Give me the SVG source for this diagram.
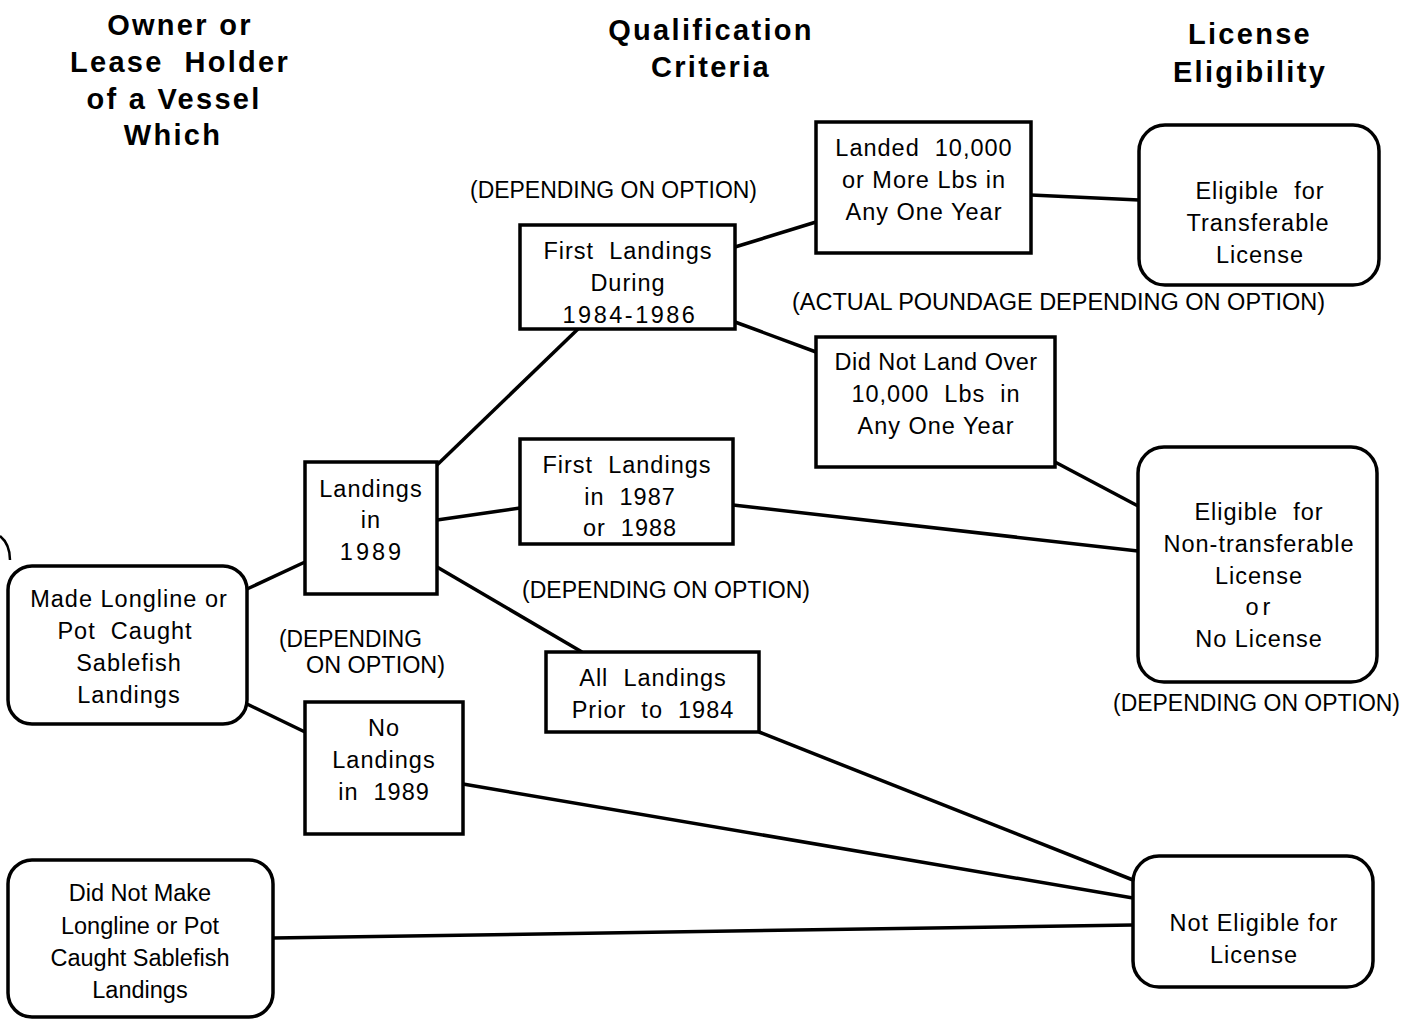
<svg xmlns="http://www.w3.org/2000/svg" width="1417" height="1019" viewBox="0 0 1417 1019">
<style>
.box{fill:#fff;stroke:#000;stroke-width:3.5}
.t{font-family:"Liberation Sans",Arial,sans-serif;font-size:23.5px;letter-spacing:1px;text-anchor:middle;fill:#000;white-space:pre}
.h{font-family:"Liberation Sans",Arial,sans-serif;font-size:29px;font-weight:bold;letter-spacing:2.3px;text-anchor:middle;fill:#000;white-space:pre}
.n{font-family:"Liberation Sans",Arial,sans-serif;font-size:23.5px;fill:#000}
.c{stroke:#000;stroke-width:3.5;fill:none}
</style>
<rect width="1417" height="1019" fill="#fff"/>
<g id="headers">
<text class="h" x="180" y="35">Owner or</text>
<text class="h" x="180" y="72">Lease  Holder</text>
<text class="h" x="174" y="109">of a Vessel</text>
<text class="h" x="173" y="145">Which</text>
<text class="h" x="711" y="40">Qualification</text>
<text class="h" x="711" y="77">Criteria</text>
<text class="h" x="1250" y="44">License</text>
<text class="h" x="1250" y="82">Eligibility</text>
</g>
<g id="connectors">
<line class="c" x1="247" y1="589" x2="305" y2="562"/>
<line class="c" x1="247" y1="704" x2="305" y2="732"/>
<line class="c" x1="437" y1="465" x2="578" y2="329"/>
<line class="c" x1="437" y1="520" x2="520" y2="508"/>
<line class="c" x1="437" y1="567" x2="582" y2="652"/>
<line class="c" x1="735" y1="247" x2="816" y2="222"/>
<line class="c" x1="735" y1="322" x2="816" y2="352"/>
<line class="c" x1="1031" y1="195" x2="1139" y2="200"/>
<line class="c" x1="1055" y1="462" x2="1138" y2="506"/>
<line class="c" x1="733" y1="505" x2="1138" y2="551"/>
<line class="c" x1="759" y1="732" x2="1133" y2="880"/>
<line class="c" x1="463" y1="784" x2="1133" y2="898"/>
<line class="c" x1="273" y1="938" x2="1133" y2="925"/>
<path class="c" d="M0,536 Q10,544 10,560" style="stroke-width:2.5"/>
</g>
<g id="made-longline">
<rect class="box" x="8" y="566" width="239" height="158" rx="24"/>
<text class="t" x="129" y="607">Made Longline or</text>
<text class="t" x="125" y="639">Pot  Caught</text>
<text class="t" x="129" y="671">Sablefish</text>
<text class="t" x="129" y="703">Landings</text>
</g>
<g id="did-not-make">
<rect class="box" x="8" y="860" width="265" height="157" rx="24"/>
<text class="t" x="140" y="901" style="letter-spacing:0">Did Not Make</text>
<text class="t" x="140" y="934" style="letter-spacing:0">Longline or Pot</text>
<text class="t" x="140" y="966" style="letter-spacing:0">Caught Sablefish</text>
<text class="t" x="140" y="998" style="letter-spacing:0">Landings</text>
</g>
<g id="landings-1989">
<rect class="box" x="305" y="462" width="132" height="132"/>
<text class="t" x="371" y="497">Landings</text>
<text class="t" x="371" y="528">in</text>
<text class="t" x="372" y="560" style="letter-spacing:3px">1989</text>
</g>
<g id="no-landings">
<rect class="box" x="305" y="702" width="158" height="132"/>
<text class="t" x="384" y="736">No</text>
<text class="t" x="384" y="768">Landings</text>
<text class="t" x="384" y="800">in  1989</text>
</g>
<g id="first-84-86">
<rect class="box" x="520" y="225" width="215" height="104"/>
<text class="t" x="628" y="259">First  Landings</text>
<text class="t" x="628" y="291">During</text>
<text class="t" x="630" y="323" style="letter-spacing:2.5px">1984-1986</text>
</g>
<g id="first-87-88">
<rect class="box" x="520" y="439" width="213" height="105"/>
<text class="t" x="627" y="473">First  Landings</text>
<text class="t" x="630" y="505">in  1987</text>
<text class="t" x="630" y="536">or  1988</text>
</g>
<g id="all-prior-84">
<rect class="box" x="546" y="652" width="213" height="80"/>
<text class="t" x="653" y="686">All  Landings</text>
<text class="t" x="653" y="718">Prior  to  1984</text>
</g>
<g id="landed-10000">
<rect class="box" x="816" y="122" width="215" height="131"/>
<text class="t" x="924" y="156">Landed  10,000</text>
<text class="t" x="924" y="188">or More Lbs in</text>
<text class="t" x="924" y="220">Any One Year</text>
</g>
<g id="did-not-land">
<rect class="box" x="816" y="337" width="239" height="130"/>
<text class="t" x="936" y="370" style="letter-spacing:0.5px">Did Not Land Over</text>
<text class="t" x="936" y="402">10,000  Lbs  in</text>
<text class="t" x="936" y="434">Any One Year</text>
</g>
<g id="transferable">
<rect class="box" x="1139" y="125" width="240" height="160" rx="26"/>
<text class="t" x="1260" y="199">Eligible  for</text>
<text class="t" x="1258" y="231">Transferable</text>
<text class="t" x="1260" y="263">License</text>
</g>
<g id="non-transferable">
<rect class="box" x="1138" y="447" width="239" height="235" rx="26"/>
<text class="t" x="1259" y="520">Eligible  for</text>
<text class="t" x="1259" y="552">Non-transferable</text>
<text class="t" x="1259" y="584">License</text>
<text class="t" x="1260" y="615" style="letter-spacing:4px">or</text>
<text class="t" x="1259" y="647">No License</text>
</g>
<g id="not-eligible">
<rect class="box" x="1133" y="856" width="240" height="131" rx="26"/>
<text class="t" x="1254" y="931">Not Eligible for</text>
<text class="t" x="1254" y="963">License</text>
</g>
<g id="labels">
<text class="n" x="470" y="198" textLength="287" lengthAdjust="spacingAndGlyphs">(DEPENDING ON OPTION)</text>
<text class="n" x="792" y="310" textLength="533" lengthAdjust="spacingAndGlyphs">(ACTUAL POUNDAGE DEPENDING ON OPTION)</text>
<text class="n" x="522" y="598" textLength="288" lengthAdjust="spacingAndGlyphs">(DEPENDING ON OPTION)</text>
<text class="n" x="279" y="647" textLength="143" lengthAdjust="spacingAndGlyphs">(DEPENDING</text>
<text class="n" x="306" y="673" textLength="139" lengthAdjust="spacingAndGlyphs">ON OPTION)</text>
<text class="n" x="1113" y="711" textLength="287" lengthAdjust="spacingAndGlyphs">(DEPENDING ON OPTION)</text>
</g>
</svg>
